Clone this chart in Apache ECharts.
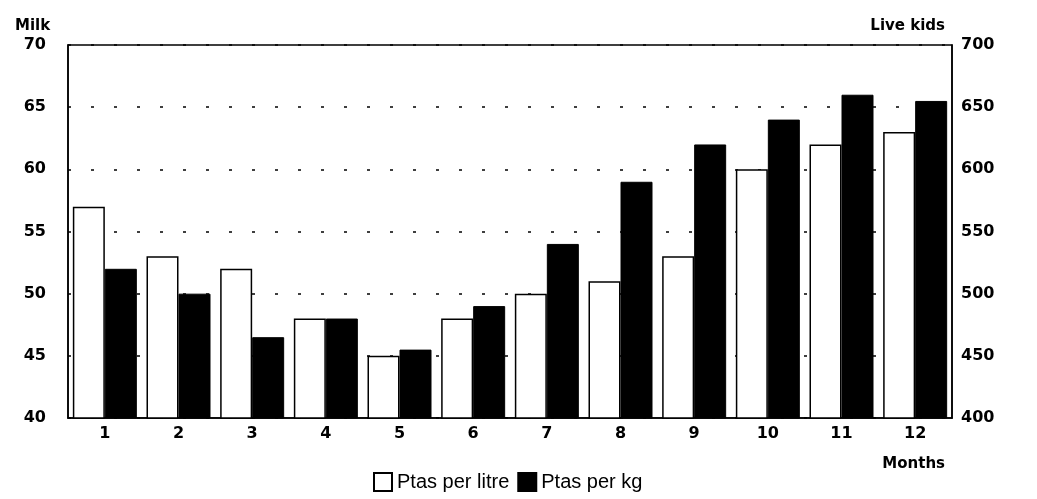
<!DOCTYPE html>
<html>
<head>
<meta charset="utf-8">
<script src="https://cdn.jsdelivr.net/npm/echarts@6/dist/echarts.min.js"></script>
<style>html,body{margin:0;padding:0;background:#fff}#c{width:1037px;height:499px}</style>
</head>
<body>
<div id="c"></div>
<script>
var months = ['1','2','3','4','5','6','7','8','9','10','11','12'];
var milkPtasPerLitre = [57, 53, 52, 48, 45, 48, 50, 51, 53, 60, 62, 63];
var kidsPtasPerKg = [520, 500, 465, 480, 455, 490, 540, 590, 620, 640, 660, 655];
var leftTicks = {min: 40, max: 70, interval: 5};
var rightTicks = {min: 400, max: 700, interval: 50};

var chart = echarts.init(document.getElementById('c'));
var axisFont = {color: '#000', fontFamily: 'DejaVu Sans', fontWeight: 'bold', fontSize: 16};
chart.setOption({
  backgroundColor: '#fff',
  animation: false,
  title: [
    {text: 'Milk', left: 10, top: 14, textStyle: Object.assign({}, axisFont, {fontSize: 15})},
    {text: 'Live kids', right: 87, top: 14, textStyle: Object.assign({}, axisFont, {fontSize: 15})},
    {text: 'Months', right: 87, top: 452, textStyle: Object.assign({}, axisFont, {fontSize: 15})}
  ],
  legend: {
    bottom: 2, left: 368,
    itemWidth: 18, itemHeight: 18, itemGap: 8,
    icon: 'rect',
    textStyle: {color: '#000', fontFamily: 'Liberation Sans', fontSize: 20},
    data: ['Ptas per litre', 'Ptas per kg']
  },
  grid: {left: 68, right: 85, top: 45, bottom: 81, show: true, borderColor: '#000', borderWidth: 1.5, backgroundColor: '#fff'},
  xAxis: {
    type: 'category', data: months,
    axisTick: {show: false},
    axisLine: {lineStyle: {color: '#000', width: 1.5}},
    axisLabel: Object.assign({margin: 8}, axisFont)
  },
  yAxis: [
    {
      type: 'value', min: leftTicks.min, max: leftTicks.max, interval: leftTicks.interval,
      axisLine: {show: true, lineStyle: {color: '#000', width: 1.5}},
      axisTick: {show: false},
      axisLabel: Object.assign({margin: 22}, axisFont),
      splitLine: {show: true, lineStyle: {color: '#000', width: 1.5, type: [3, 20]}}
    },
    {
      type: 'value', min: rightTicks.min, max: rightTicks.max, interval: rightTicks.interval,
      axisLine: {show: true, lineStyle: {color: '#000', width: 1.5}},
      axisTick: {show: false},
      axisLabel: Object.assign({margin: 9}, axisFont),
      splitLine: {show: false}
    }
  ],
  series: [
    {
      name: 'Ptas per litre', type: 'bar', yAxisIndex: 0, data: milkPtasPerLitre,
      barWidth: 32, barGap: '0%',
      itemStyle: {color: '#fff', borderColor: '#000', borderWidth: 1.5}
    },
    {
      name: 'Ptas per kg', type: 'bar', yAxisIndex: 1, data: kidsPtasPerKg,
      barWidth: 32, barGap: '0%',
      itemStyle: {color: '#000', borderColor: '#000', borderWidth: 1}
    }
  ]
});
</script>
</body>
</html>
